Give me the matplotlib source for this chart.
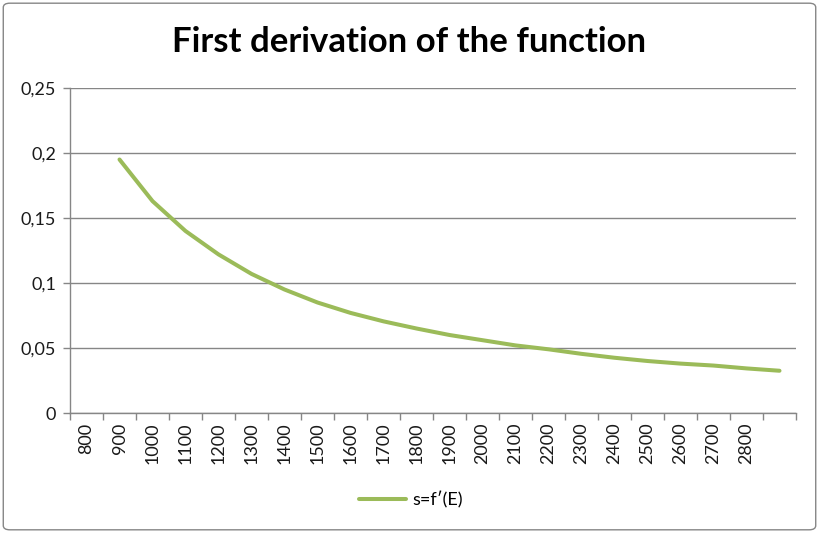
import numpy as np
import matplotlib
matplotlib.use("Agg")
import matplotlib.pyplot as plt
from matplotlib.patches import FancyBboxPatch
from matplotlib.ticker import FixedLocator, FuncFormatter

plt.rcParams['font.family'] = ['Lato', 'DejaVu Sans']

# category labels (last slot has no label in the original sheet)
energy_labels = ['800', '900', '1000', '1100', '1200', '1300', '1400', '1500',
                 '1600', '1700', '1800', '1900', '2000', '2100', '2200', '2300',
                 '2400', '2500', '2600', '2700', '2800', '']
# s = f'(E), first slot is empty
slope = [np.nan, 0.195, 0.163, 0.140, 0.122, 0.107, 0.095, 0.085, 0.077, 0.0705,
         0.065, 0.060, 0.056, 0.052, 0.049, 0.0455, 0.0425, 0.040, 0.038,
         0.0365, 0.0343, 0.0325]
y_ticks = [0, 0.05, 0.1, 0.15, 0.2, 0.25]

fig = plt.figure(figsize=(8.19, 5.33), dpi=100)
ax = fig.add_axes([70 / 819, 1 - 413 / 533, 726 / 819, 325 / 533])

x = np.arange(len(energy_labels))
ax.plot(x, slope, color='#9BBB59', linewidth=2.9, solid_capstyle='round',
        solid_joinstyle='round', label="s=f\u2032(E)", zorder=3)

ax.set_xlim(-0.5, len(energy_labels) - 0.5)
ax.set_ylim(0, 0.25)

# y axis
ax.set_yticks(y_ticks)
ax.yaxis.set_major_formatter(FuncFormatter(lambda v, p: ('%g' % v).replace('.', ',')))
ax.grid(axis='y', color='#868686', linewidth=1.0)
ax.set_axisbelow(True)

# x axis: ticks at category boundaries, labels at centres
ax.xaxis.set_major_locator(FixedLocator(np.arange(len(energy_labels) + 1) - 0.5))
ax.xaxis.set_major_formatter(FuncFormatter(lambda v, p: ''))
ax.xaxis.set_minor_locator(FixedLocator(x))
ax.set_xticklabels(energy_labels, minor=True, rotation=90)
ax.tick_params(axis='x', which='minor', length=0, pad=7)
ax.tick_params(axis='x', which='major', length=5, color='#868686', width=1)
ax.tick_params(axis='y', length=5, color='#868686', width=1, pad=5)
ax.tick_params(labelsize=13, labelcolor='#1a1a1a')
ax.tick_params(axis='x', which='minor', labelsize=13, labelcolor='#1a1a1a')

for side in ['top', 'right']:
    ax.spines[side].set_visible(False)
for side in ['left', 'bottom']:
    ax.spines[side].set_color('#868686')
    ax.spines[side].set_linewidth(1.0)

fig.text(0.5, 1 - 42 / 533, 'First derivation of the function', ha='center',
         va='center', fontsize=25, fontweight='bold', color='black')

fig.legend(loc='center', bbox_to_anchor=(411 / 819, 1 - 500 / 533), frameon=False,
           fontsize=13, handlelength=2.6, handletextpad=0.4)

# outer chart border
border = FancyBboxPatch((0.004, 0.006), 0.992, 0.988, boxstyle='round,pad=0,rounding_size=0.008',
                        transform=fig.transFigure, facecolor='none', edgecolor='#868686',
                        linewidth=1.0)
fig.patches.append(border)

fig.savefig('out.png', dpi=100)
